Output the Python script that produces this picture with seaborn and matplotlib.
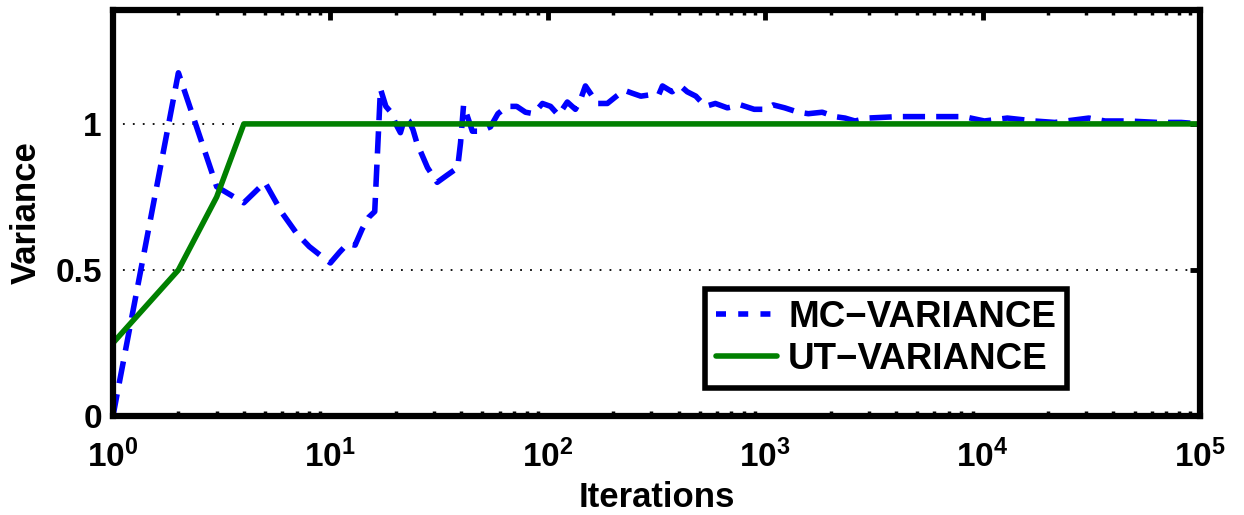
import numpy as np
import pandas as pd
import seaborn as sns
import matplotlib
matplotlib.use("Agg")
import matplotlib.pyplot as plt
from matplotlib.ticker import FixedLocator, FuncFormatter, LogLocator, NullFormatter

# Monte Carlo variance estimate vs iteration count
mc_iter = [1, 2, 3, 4, 5, 6, 7, 8, 9, 10, 11, 12, 13, 14, 15, 16, 17, 18, 19, 20,
           21, 22, 23, 24, 25, 28, 31, 34.5, 38.5, 39.7, 41, 45, 49, 54.5, 59, 65,
           72, 79, 86, 94.5, 103, 112, 123, 134, 141, 149, 169, 188, 207, 225, 245,
           268, 298, 324, 337, 373, 408, 438, 480, 531, 590, 670, 772, 890, 995,
           1090, 1230, 1420, 1580, 1830, 2090, 2330, 2590, 2960, 4100, 5100, 6900,
           8200, 10200, 13000, 17300, 21500, 30800, 36600, 47000, 64000, 82000, 100000]
mc_var = [0.0, 1.175, 0.785, 0.73, 0.80, 0.695, 0.625, 0.58, 0.55, 0.524, 0.56, 0.59,
          0.585, 0.64, 0.68, 0.70, 1.12, 1.06, 1.04, 1.0, 0.97, 1.02, 1.01, 0.98, 0.935,
          0.85, 0.80, 0.825, 0.85, 0.935, 1.065, 0.975, 0.975, 0.99, 1.035, 1.06,
          1.06, 1.04, 1.035, 1.07, 1.06, 1.03, 1.075, 1.05, 1.08, 1.13, 1.07, 1.07,
          1.095, 1.115, 1.105, 1.095, 1.10, 1.10, 1.13, 1.11, 1.13, 1.11, 1.095, 1.06,
          1.07, 1.055, 1.065, 1.05, 1.05, 1.065, 1.055, 1.04, 1.035, 1.04, 1.025, 1.02,
          1.01, 1.02, 1.025, 1.025, 1.025, 1.025, 1.01, 1.02, 1.01, 1.005, 1.02, 1.01,
          1.01, 1.005, 1.005, 1.0]

# Unscented transform variance
ut_iter = [1, 2, 3, 4, 100000]
ut_var = [0.25, 0.5, 0.75, 1.0, 1.0]

labels = ["MC\u2212VARIANCE", "UT\u2212VARIANCE"]
yticks = [0, 0.5, 1]

df = pd.concat([
    pd.DataFrame({"Iterations": mc_iter, "Variance": mc_var, "series": labels[0]}),
    pd.DataFrame({"Iterations": ut_iter, "Variance": ut_var, "series": labels[1]}),
])

sns.set_style("white")
plt.rcParams["font.family"] = ["Liberation Sans", "DejaVu Sans"]
plt.rcParams["font.weight"] = "bold"
plt.rcParams["mathtext.fontset"] = "custom"
plt.rcParams["mathtext.bf"] = "Liberation Sans:bold"
plt.rcParams["mathtext.rm"] = "Liberation Sans:bold"
for key in ["text.color", "axes.labelcolor", "xtick.color", "ytick.color"]:
    plt.rcParams[key] = "black"

fig = plt.figure(figsize=(12.44, 5.15), dpi=100)
ax = fig.add_axes([0.0908, 0.1922, 0.9646 - 0.0908, 0.9806 - 0.1922])

sns.lineplot(
    data=df, x="Iterations", y="Variance", hue="series", style="series",
    palette={labels[0]: "#0000ff", labels[1]: "#008000"},
    dashes={labels[0]: (4, 2), labels[1]: ""},
    linewidth=4, estimator=None, sort=False, ax=ax,
)

ax.set_xscale("log")
ax.set_xlim(1, 1e5)
ax.set_ylim(0, 1.39)

ax.xaxis.set_major_locator(LogLocator(base=10, numticks=10))
ax.xaxis.set_minor_locator(LogLocator(base=10, subs=np.arange(2, 10), numticks=20))
ax.xaxis.set_minor_formatter(NullFormatter())
ax.xaxis.set_major_formatter(FuncFormatter(
    lambda v, p: r"$\mathbf{10^{%d}}$" % int(round(np.log10(v)))))
ax.yaxis.set_major_locator(FixedLocator(yticks))
ax.yaxis.set_major_formatter(FuncFormatter(lambda v, p: "%g" % v))

ax.tick_params(axis="both", which="major", direction="in", length=7, width=3.5,
               labelsize=24, top=True, right=True, color="black",
               labelcolor="black")
ax.tick_params(axis="x", which="major", pad=17)
ax.tick_params(axis="y", which="major", pad=8)
ax.tick_params(axis="x", which="minor", direction="in", length=3.5, width=2.5,
               top=True, bottom=True, color="black")
for lab in ax.get_xticklabels() + ax.get_yticklabels():
    lab.set_fontweight("bold")

for s in ax.spines.values():
    s.set_linewidth(4.5)
    s.set_color("black")

ax.yaxis.grid(True, which="major", color="black", linestyle=(0, (1, 4.5)),
              linewidth=1.3)
ax.xaxis.grid(False)
ax.set_axisbelow(True)

ax.set_xlabel("Iterations", fontsize=25, fontweight="bold", labelpad=5,
              color="black")
ax.set_ylabel("Variance", fontsize=25, fontweight="bold", labelpad=9,
              color="black")

handles, labs = ax.get_legend_handles_labels()
leg = ax.legend(handles, labs, loc="lower right",
                bbox_to_anchor=((1067 - 113) / 1087, (416 - 388) / 406),
                borderaxespad=0, fancybox=False, framealpha=1, edgecolor="black",
                prop={"size": 26.5, "weight": "bold"}, handlelength=1.65,
                handletextpad=0.3, labelspacing=0.2, borderpad=0.3)
leg.get_frame().set_linewidth(4)
leg.get_lines()[0].set_dashes((1.8, 2.2))
for t in leg.get_texts():
    t.set_color("black")

fig.savefig("out.png", dpi=100)
